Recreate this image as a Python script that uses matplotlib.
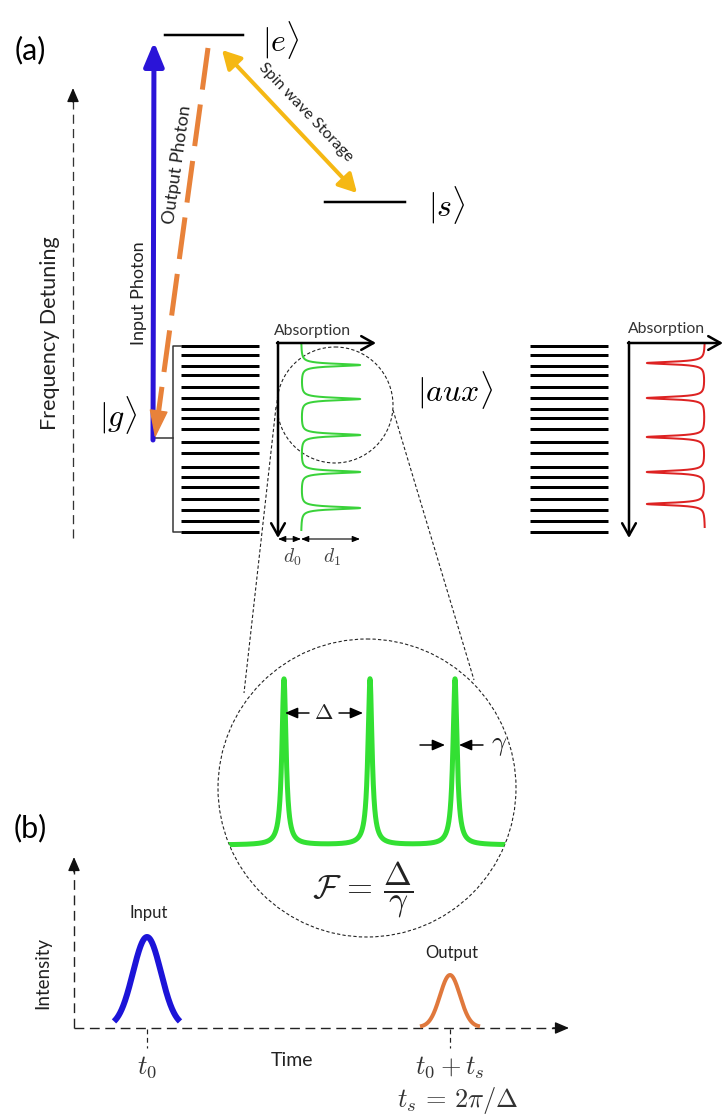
import numpy as np
import matplotlib.pyplot as plt
from matplotlib.patches import Circle

plt.rcParams['mathtext.fontset'] = 'cm'
plt.rcParams['font.family'] = ['Lato', 'DejaVu Sans']

W, H = 725, 1114
PX = 0.72  # points per pixel at dpi 100

# energy levels of the inhomogeneous band (y, px), used for |g> and |aux>
comb_levels = [346, 355, 366, 375, 387, 398, 409, 418, 429, 442,
               453, 467, 477, 487, 499, 510, 521, 532]
# absorption peaks of the atomic frequency comb (y, px)
green_peaks = [365, 399, 435, 472, 508]
red_peaks = [363, 398, 437, 472, 504]
# zoomed comb, peak positions (x, px)
zoom_peaks = [284, 370, 455]
# pulses in panel (b)
pulse_names = ['Input', 'Output']
pulse_centres = [147, 450]
pulse_heights = [90, 52]
pulse_sigmas = [14, 10]
pulse_colors = ['#1c14d8', '#e0783c']


def lorentz(u, centres, amp, hw):
    return sum(amp / (1 + ((u - c) / hw) ** 2) for c in centres)


def arrow(ax, p0, p1, color='black', lw=1.0, style='-|>', ms=10, **kw):
    ax.annotate('', xy=p1, xytext=p0,
                arrowprops=dict(arrowstyle=style, color=color, lw=lw,
                                shrinkA=0, shrinkB=0, mutation_scale=ms, **kw))


fig = plt.figure(figsize=(7.25, 11.14), dpi=100)
ax = fig.add_axes([0, 0, 1, 1])
ax.set_xlim(0, W)
ax.set_ylim(H, 0)
ax.axis('off')

# ---------- (a) level scheme ----------
ax.text(30, 50, '(a)', fontsize=22, ha='center', va='center')

# frequency detuning axis
ax.plot([73, 73], [538, 100], color='#333', lw=1.3 * PX, ls=(0, (7, 4)))
arrow(ax, (73, 102), (73, 88), color='#111', lw=1.0, style='-|>,head_length=0.7,head_width=0.3', ms=12)
ax.text(50, 333, 'Frequency Detuning', rotation=90, fontsize=15.5, ha='center', va='center', color='#222')

# levels |e> and |s>
ax.plot([165, 243], [35, 35], color='black', lw=2.5 * PX)
ax.plot([325, 405], [202, 202], color='black', lw=2.5 * PX)
ax.text(281, 40, r'$|e\rangle$', fontsize=23, ha='center', va='center')
ax.text(447, 205, r'$|s\rangle$', fontsize=23, ha='center', va='center')
ax.text(118, 415, r'$|g\rangle$', fontsize=23, ha='center', va='center')
ax.text(455, 390, r'$|aux\rangle$', fontsize=23, ha='center', va='center')

# input photon (blue)
arrow(ax, (153, 440), (154, 42), color='#2a14d8', lw=5 * PX,
      style='-|>,head_length=0.72,head_width=0.3', ms=20)
ax.text(139, 293, 'Input Photon', rotation=90, fontsize=13, ha='center', va='center', color='#222')

# output photon (orange dashed)
start = np.array([208.0, 48.0])
tip = np.array([155.0, 438.0])
d = (tip - start) / np.linalg.norm(tip - start)
base = tip - 24 * d
ax.plot([start[0], base[0]], [start[1], base[1]], color='#e8823a', lw=5 * PX,
        ls=(0, (8.4, 3.0)), solid_capstyle='butt', dash_capstyle='butt')
arrow(ax, tuple(tip - 27 * d), tuple(tip), color='#e8823a', lw=1.0,
      style='-|>,head_length=0.9,head_width=0.3', ms=20)
ax.text(177, 165, 'Output Photon', rotation=82, fontsize=13, ha='center', va='center', color='#222')

# spin wave storage (yellow)
arrow(ax, (222, 50), (357, 193), color='#f5b814', lw=4 * PX,
      style='<|-|>,head_length=0.55,head_width=0.3', ms=20)
ax.text(306, 112, 'Spin wave Storage', rotation=-46.5, fontsize=11.5, ha='center', va='center', color='#222')

# |g> band with bracket
ax.plot([153, 173], [438, 438], color='#333', lw=1.5 * PX)
ax.plot([181, 173, 173, 181], [comb_levels[0], comb_levels[0], comb_levels[-1], comb_levels[-1]],
        color='#333', lw=1.5 * PX)
for y in comb_levels:
    ax.plot([181, 259], [y, y], color='black', lw=3 * PX, solid_capstyle='butt')

# |aux> band
for y in comb_levels:
    ax.plot([530, 608], [y, y], color='black', lw=3 * PX, solid_capstyle='butt')

# absorption axes
for x0, x1 in [(278, 376), (629, 723)]:
    arrow(ax, (x0 - 1, 343), (x1, 343), lw=2.5 * PX, style='->,head_length=0.8,head_width=0.45', ms=11)
    arrow(ax, (x0, 342), (x0, 538), lw=2.5 * PX, style='->,head_length=0.8,head_width=0.45', ms=11)
ax.text(313, 331, 'Absorption', fontsize=11.3, ha='center', va='center', color='#333')
ax.text(667, 329, 'Absorption', fontsize=11.3, ha='center', va='center', color='#333')

# green comb (prepared AFC)
yy = np.linspace(343, 530, 4000)
ax.plot(301 + lorentz(yy, green_peaks, 59, 1.5), yy, color='#3ad23a', lw=2 * PX)
# red comb (aux)
yy = np.linspace(345, 527, 4000)
ax.plot(705 - lorentz(yy, red_peaks, 58, 1.5), yy, color='#dd2222', lw=2 * PX)

# d0 d1
arrow(ax, (278, 539), (301, 539), lw=0.8, style='<|-|>,head_length=0.5,head_width=0.2', ms=9)
arrow(ax, (301, 539), (360, 539), lw=0.8, style='<|-|>,head_length=0.5,head_width=0.2', ms=9)
ax.text(292, 557, r'$d_0$', fontsize=14, ha='center', va='center', color='#444')
ax.text(332, 557, r'$d_1$', fontsize=14, ha='center', va='center', color='#444')

# zoom circles and connectors
small = Circle((335, 405), 58, fill=False, ec='#222', lw=1.1 * PX, ls=(0, (3, 2)))
big = Circle((367, 788), 149, fill=False, ec='#222', lw=1.1 * PX, ls=(0, (3, 2)))
ax.add_patch(small)
ax.add_patch(big)
ax.plot([276, 244], [407, 693], color='#222', lw=1.1 * PX, ls=(0, (3, 2)))
ax.plot([393, 474], [410, 680], color='#222', lw=1.1 * PX, ls=(0, (3, 2)))

# zoomed comb
xx = np.linspace(210, 525, 6000)
clip = Circle((367, 788), 149, transform=ax.transData)
line, = ax.plot(xx, 845 - lorentz(xx, zoom_peaks, 166, 2.5), color='#33e033', lw=5 * PX,
                solid_capstyle='butt')
line.set_clip_path(clip)

arrow(ax, (309, 713), (285, 713), lw=1.5 * PX, style='-|>,head_length=0.7,head_width=0.3', ms=11)
arrow(ax, (339, 713), (363, 713), lw=1.5 * PX, style='-|>,head_length=0.7,head_width=0.3', ms=11)
ax.text(324, 713, r'$\Delta$', fontsize=16, ha='center', va='center', color='#222')
arrow(ax, (420, 745), (445, 745), lw=1.5 * PX, style='-|>,head_length=0.7,head_width=0.3', ms=11)
arrow(ax, (483, 745), (459, 745), lw=1.5 * PX, style='-|>,head_length=0.7,head_width=0.3', ms=11)
ax.text(499, 746, r'$\gamma$', fontsize=19, ha='center', va='center', color='#222')
ax.text(363, 890, r'$\mathcal{F}\,=\,\dfrac{\Delta}{\gamma}$', fontsize=24, ha='center', va='center',
        color='#222')

# ---------- (b) pulses ----------
ax.text(30, 828, '(b)', fontsize=22, ha='center', va='center')
ax.plot([74, 74], [1028, 868], color='#222', lw=1.4 * PX, ls=(0, (7, 4)))
arrow(ax, (74, 872), (74, 857), color='#111', lw=1.0, style='-|>,head_length=0.7,head_width=0.3', ms=12)
ax.plot([74, 556], [1028, 1028], color='#222', lw=1.4 * PX, ls=(0, (7, 4)))
arrow(ax, (553, 1028), (569, 1028), color='#111', lw=1.0, style='-|>,head_length=0.7,head_width=0.3', ms=12)
ax.text(43, 973, 'Intensity', rotation=90, fontsize=13.5, ha='center', va='center', color='#222')
ax.text(292, 1060, 'Time', fontsize=14, ha='center', va='center', color='#222')

for name, c, h, s, col, lw, half, ly in zip(pulse_names, pulse_centres, pulse_heights, pulse_sigmas,
                                            pulse_colors, [6, 4], [33, 30], [913, 953]):
    tt = np.linspace(c - half, c + half, 300)
    ax.plot(tt, 1027 - h * np.exp(-(tt - c) ** 2 / (2 * s ** 2)), color=col, lw=lw * PX,
            solid_capstyle='butt')
    ax.plot([c, c], [1029, 1048], color='#222', lw=1.2 * PX, ls=(0, (4, 3)))
    ax.text(c + 2, ly, name, fontsize=12, ha='center', va='center', color='#222')

ax.text(147, 1067, r'$t_0$', fontsize=19, ha='center', va='center', color='#333')
ax.text(450, 1067, r'$t_0+t_s$', fontsize=19, ha='center', va='center', color='#333')
ax.text(458, 1100, r'$t_s\,=\,2\pi/\Delta$', fontsize=19, ha='center', va='center', color='#333')

fig.savefig('out.png', dpi=100)
